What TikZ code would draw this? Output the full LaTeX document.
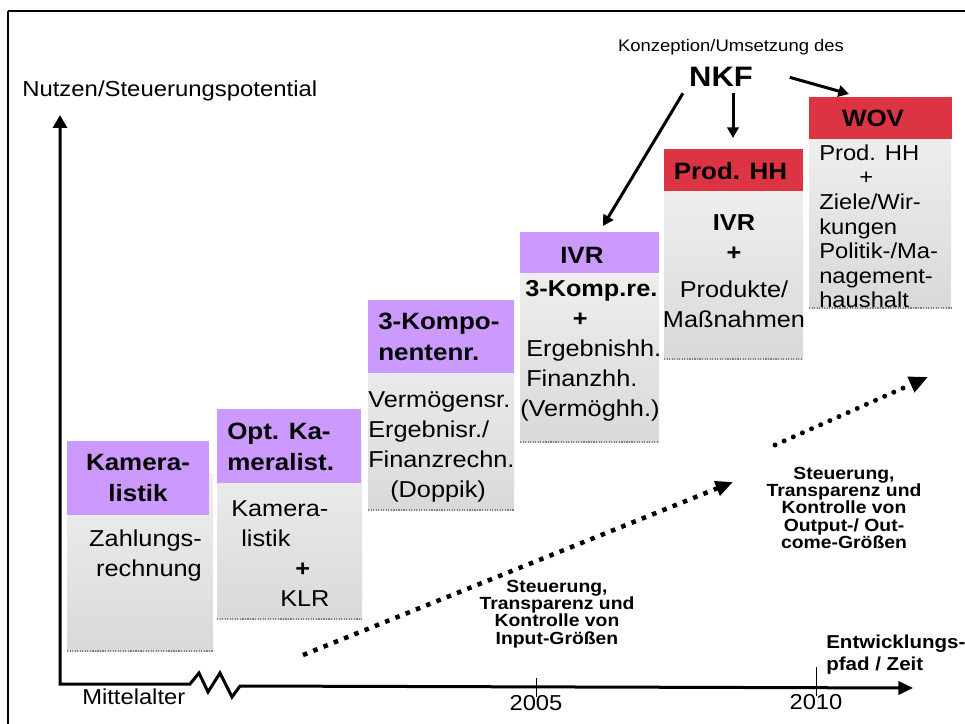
\documentclass[tikz,border=0pt]{standalone}
\usepackage{fontspec}
\setmainfont{Liberation Sans}[FakeStretch=1.1]
\usetikzlibrary{arrows.meta}
\definecolor{lila}{RGB}{204,153,255}
\definecolor{rot}{RGB}{221,52,68}
\definecolor{hellgrau}{RGB}{239,239,239}
\definecolor{dunkelgrau}{RGB}{217,217,217}
\tikzset{
  kopf/.style={font=\bfseries\fontsize{17.7}{23.25}\selectfont, inner sep=0pt},
  rumpf/.style={font=\fontsize{17.25}{22.5}\selectfont, inner sep=0pt},
  steuertext/.style={font=\bfseries\fontsize{13.2}{12.9}\selectfont, inner sep=0pt, align=center},
  jahr/.style={font=\fontsize{16.2}{19}\selectfont, inner sep=0pt},
  pfeil/.style={line width=2.25pt, -{Triangle[length=8pt,width=8.5pt]}},
  achse/.style={line width=2.25pt, line join=miter},
}
% #1 left, #2 header right, #3 body right, #4 header top, #5 header bottom, #6 body bottom, #7 header colour
\newcommand\stufe[7]{
  \fill[top color=hellgrau, bottom color=dunkelgrau] (#1,#4+32) rectangle (#3,#6);
  \fill[#7] (#1,#4) rectangle (#2,#5);
  \draw[gray, densely dotted, line width=0.9pt] (#1,#6) -- (#3,#6);
}

\begin{document}
\begin{tikzpicture}[x=0.75pt, y=-0.75pt]
  \useasboundingbox (0,0) rectangle (965,724);
  % frame
  \draw[line width=2pt] (8,11) -- (966,11);
  \draw[line width=1.2pt] (8,11) -- (8,725);

  % stages
  \stufe{67}{209}{213}{441}{515}{651}{lila}
  \stufe{217}{361}{362}{409}{483}{619}{lila}
  \stufe{368}{514}{514}{300}{373}{510}{lila}
  \stufe{520}{659}{659}{232}{273}{442}{lila}
  \stufe{664}{803}{803}{149}{191}{359}{rot}
  \stufe{809}{952}{951}{97}{139}{308}{rot}

  \node[kopf, align=center, anchor=north] (kam) at (138,454) {Kamera-\\listik};
  \node[rumpf, align=right, anchor=north east] (kamtext) at (202,530) {Zahlungs-\\rechnung};

  \node[kopf, align=left, anchor=north west] (opt) at (227,423) {Opt. Ka-\\meralist.};
  \node[rumpf, align=left, anchor=north west] (opttext) at (231,500)
    {Kamera-\\\hspace*{7.5pt}listik\\\hspace*{48pt}\textbf{+}\\\hspace*{36.75pt}KLR};

  \node[kopf, align=left, anchor=north west] (drei) at (378,313) {3-Kompo-\\nentenr.};
  \node[rumpf, align=left, anchor=north west] (dreitext) at (368,391)
    {Vermögensr.\\Ergebnisr./\\Finanzrechn.\\\hspace*{16.5pt}(Doppik)};

  \node[kopf, anchor=base west] (ivr) at (560,263) {IVR};
  \node[rumpf, align=left, anchor=north west] (ivrtext) at (520,280)
    {\hspace*{3.75pt}\textbf{3-Komp.re.}\\\hspace*{39.5pt}\textbf{+}\\\hspace*{4.5pt}Ergebnishh.\\\hspace*{4.5pt}Finanzhh.\\(Vermöghh.)};

  \node[kopf, anchor=base] (prod) at (730.5,180) {Prod. HH};
  \node[rumpf, align=center, anchor=north] (prodtext) at (734,214.5)
    {\textbf{IVR}\\\textbf{+}\\[5.25pt]Produkte/\\Maßnahmen};

  \node[kopf, anchor=base] (wov) at (873,127) {WOV};
  \node[font=\fontsize{16.2}{18.4}\selectfont, inner sep=0pt, align=left, anchor=north west] (wovtext) at (819,144.5)
    {Prod. HH\\\hspace*{30pt}+\\Ziele/Wir-\\kungen\\Politik-/Ma-\\nagement-\\haushalt};

  % NKF
  \node[font=\fontsize{12.6}{15}\selectfont, inner sep=0pt, anchor=base] (konz) at (731,52) {Konzeption/Umsetzung des};
  \node[font=\bfseries\fontsize{21.1}{25}\selectfont, inner sep=4.5pt, anchor=base] (nkf) at (721,87) {NKF};
  \coordinate (ivrtop) at (603,226);
  \coordinate (prodtop) at (733,138);
  \coordinate (wovtop) at (849,94);
  \draw[pfeil] (nkf.south west) -- (ivrtop);
  \draw[pfeil] (nkf.south -| prodtop) -- (prodtop);
  \draw[pfeil] ([xshift=23pt]nkf.east) -- (wovtop);

  % axes
  \coordinate (yende) at (60,115);
  \coordinate (ursprung) at (60,684);
  \coordinate (xende) at (913,688);
  \draw[achse, {Triangle[length=9.75pt,width=10.5pt]}-{Triangle[length=11pt,width=10pt]}]
    (yende) -- (ursprung) -- (190,684) -- (199,673) -- (208,692) -- (220,673)
    -- (232,697) -- (240,686) -- (xende);
  \node[font=\fontsize{16.3}{19}\selectfont, inner sep=0pt, anchor=base west] (nutzen) at (22,97) {Nutzen/Steuerungspotential};
  \node[jahr, anchor=base west] (mittel) at (82,704) {Mittelalter};
  \draw[line width=0.6pt] (536,678) -- (536,697);
  \node[jahr, anchor=base] (j2005) at (536,710) {2005};
  \draw[line width=0.6pt] (816,667) -- (816,696);
  \node[jahr, anchor=base] (j2010) at (816,709) {2010};
  \node[font=\bfseries\fontsize{14}{16.5}\selectfont, inner sep=0pt, align=left, anchor=north west] (zeit) at (826,634.5)
    {Entwicklungs-\\pfad / Zeit};

  % trend arrows
  \coordinate (inanf) at (303,655);
  \coordinate (inend) at (733,482);
  \coordinate (outanf) at (775,445);
  \coordinate (outend) at (928,377);
  \draw[line width=3.4pt, dash pattern=on 3.4pt off 4.9pt, -{Triangle[length=13pt,width=11pt]}] (inanf) -- (inend);
  \draw[line width=3.75pt, line cap=round, dash pattern=on 0pt off 7.5pt, -{Triangle[length=14pt,width=12pt]}] (outanf) -- (outend);
  \node[steuertext, anchor=north] (input) at (557,580) {Steuerung,\\Transparenz und\\Kontrolle von\\Input-Größen};
  \node[steuertext, anchor=north] (output) at (844,467) {Steuerung,\\Transparenz und\\Kontrolle von\\Output-/ Out-\\come-Größen};
\end{tikzpicture}
\end{document}
